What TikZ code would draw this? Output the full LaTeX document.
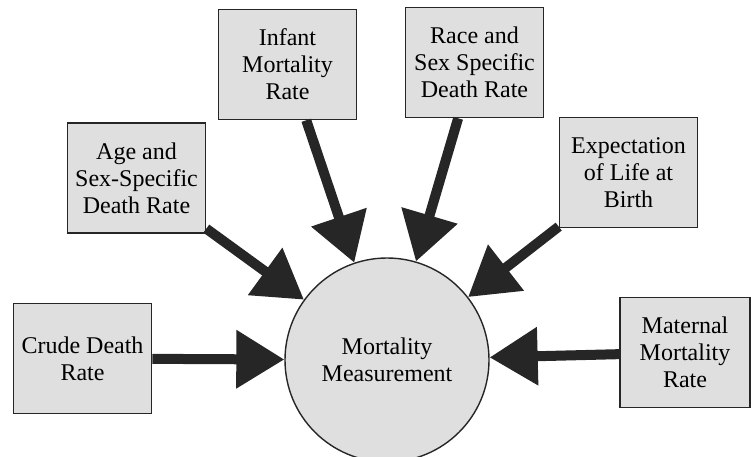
\documentclass[tikz,border=0pt]{standalone}
\usepackage{fontspec}
\setmainfont{Liberation Serif}
\usetikzlibrary{arrows.meta}

\begin{document}
\begin{tikzpicture}[x=1pt,y=-1pt]
%%%%%%%%%%%%%%%%%%%%%%%%%%%%%%%%%%%%%%%%%%%%%%%%%%%%%%%%
% STYLE
\tikzstyle{case}=[rectangle,draw=black!85,line width=1.6pt,fill=gray!25,minimum width=138pt,minimum height=110pt,align=center,inner sep=2pt,font=\fontsize{24}{27}\selectfont]
\tikzstyle{hub}=[circle,draw=black!85,line width=1.4pt,fill=gray!25,minimum size=204pt,align=center,inner sep=0pt,font=\fontsize{24}{27}\selectfont]

\tikzset{link/.style={-{Triangle[length=48pt,width=56pt]},line width=10pt,draw=black!85}}

\useasboundingbox (0,0) rectangle (751,457);

%%%%%%%%%%%%%%%%%%%%%%%%%%%%%%%%%%%%%%%%%%%%%%%%%%%%%%%%
% NODES
\node[hub] (MM) at (387, 360) {Mortality\\Measurement};

\node[case] (IMR) at (287.5, 64.5) {Infant\\Mortality\\Rate};
\node[case] (RSDR) at (474.5, 62.5) {Race and\\Sex Specific\\Death Rate};
\node[case] (ASDR) at (136.5, 178) {Age and\\Sex-Specific\\Death Rate};
\node[case] (ELB) at (628.5, 172.5) {Expectation\\of Life at\\Birth};
\node[case] (CDR) at (82.5, 358.5) {Crude Death\\Rate};
\node[case,minimum width=130pt] (MMR) at (685, 352.5) {Maternal\\Mortality\\Rate};

%%%%%%%%%%%%%%%%%%%%%%%%%%%%%%%%%%%%%%%%%%%%%%%%%%%%%%%%
% LINKS
\draw[link] (IMR) -- (MM);
\draw[link] (RSDR) -- (MM);
\draw[link] (ASDR) -- (MM);
\draw[link] (ELB) -- (MM);
\draw[link] (CDR) -- (MM);
\draw[link] (MMR) -- (MM);

\end{tikzpicture}
\end{document}
